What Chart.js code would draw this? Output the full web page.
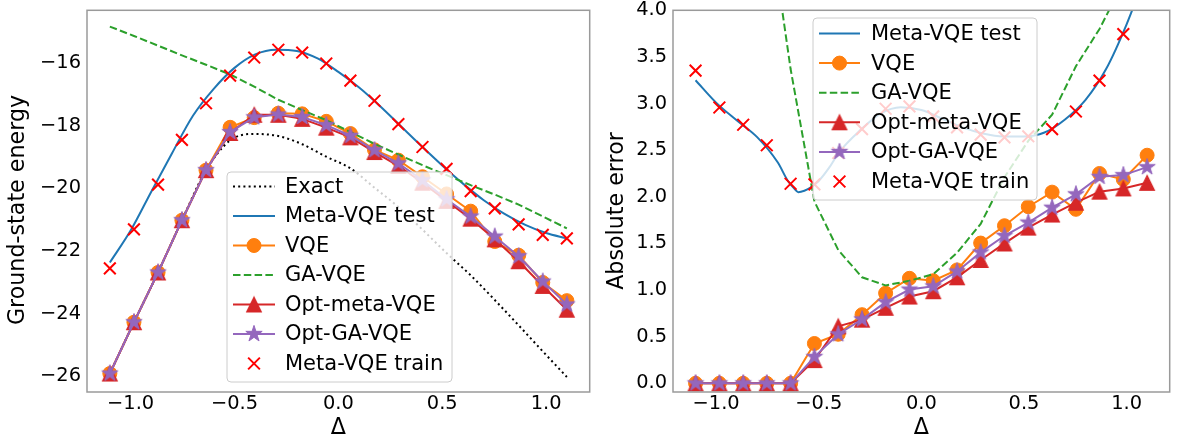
<!DOCTYPE html>
<html><head><meta charset="utf-8">
<script src="https://cdn.jsdelivr.net/npm/chart.js@4.4.0/dist/chart.umd.min.js"></script>
<style>
html,body{margin:0;padding:0;background:#fff;width:1180px;height:443px;overflow:hidden}
#c1{position:absolute;left:0;top:0}
#c2{position:absolute;left:600px;top:0}
</style></head><body>
<canvas id="c1" width="600" height="443"></canvas>
<canvas id="c2" width="580" height="443"></canvas>
<script>
// ---------- data ----------
const deltas = [-1.1, -0.984, -0.868, -0.753, -0.637, -0.521, -0.405, -0.289, -0.174, -0.058, 0.058, 0.174, 0.289, 0.405, 0.521, 0.637, 0.753, 0.868, 0.984, 1.1];
const xTicks = [-1.0, -0.5, 0.0, 0.5, 1.0];
const energyTicks = [-26, -24, -22, -20, -18, -16];
const errorTicks = [0, 0.5, 1.0, 1.5, 2.0, 2.5, 3.0, 3.5, 4.0];

// left panel: ground-state energy
const exactE    = [-25.92,-24.28,-22.69,-21.02,-19.42,-18.47,-18.26,-18.33,-18.59,-18.99,-19.36,-19.98,-20.60,-21.32,-22.07,-22.78,-23.57,-24.38,-25.21,-26.03];
const testXE    = [-1.1,-1.0,-0.9,-0.8,-0.7,-0.6,-0.5,-0.4,-0.3,-0.2,-0.1,0.0,0.1,0.2,0.3,0.4,0.5,0.6,0.7,0.8,0.9,1.0,1.1];
const metaTestE = [-22.37,-21.35,-20.10,-18.87,-17.68,-16.82,-16.15,-15.72,-15.57,-15.61,-15.85,-16.28,-16.78,-17.37,-18.01,-18.65,-19.27,-19.85,-20.38,-20.82,-21.17,-21.43,-21.60];
const vqeE      = [-25.92,-24.28,-22.69,-21.02,-19.42,-18.05,-17.74,-17.60,-17.62,-17.86,-18.25,-18.77,-19.10,-19.63,-20.18,-20.73,-21.70,-22.14,-23.01,-23.59];
const gaE       = [-14.83,-15.13,-15.44,-15.75,-16.05,-16.36,-16.75,-17.17,-17.50,-17.82,-18.20,-18.58,-18.92,-19.26,-19.58,-19.90,-20.20,-20.52,-20.90,-21.28];
const optMetaE  = [-25.92,-24.28,-22.69,-21.02,-19.42,-18.23,-17.65,-17.65,-17.78,-18.06,-18.37,-18.84,-19.28,-19.82,-20.40,-20.97,-21.63,-22.33,-23.12,-23.88];
const optGaE    = [-25.92,-24.28,-22.69,-21.02,-19.42,-18.20,-17.73,-17.64,-17.72,-17.98,-18.32,-18.78,-19.20,-19.74,-20.35,-20.90,-21.54,-22.17,-22.98,-23.71];
const metaTrainE= [-22.56,-21.31,-19.88,-18.45,-17.28,-16.40,-15.82,-15.57,-15.66,-16.01,-16.56,-17.20,-17.95,-18.68,-19.38,-20.09,-20.64,-21.15,-21.49,-21.60];

// right panel: absolute error
const testXR     = [-1.1,-1.0,-0.9,-0.8,-0.7,-0.65,-0.62,-0.6,-0.57,-0.54,-0.5,-0.45,-0.4,-0.3,-0.2,-0.1,0.0,0.1,0.2,0.3,0.4,0.5,0.6,0.7,0.8,0.9,1.0,1.1];
const metaTestErr= [3.25,3.01,2.82,2.64,2.37,2.17,2.09,2.05,2.065,2.10,2.17,2.31,2.48,2.71,2.89,2.96,2.93,2.84,2.745,2.68,2.648,2.647,2.69,2.83,3.04,3.37,3.85,4.43];
const vqeErr     = [0,0,0,0,0,0.427,0.526,0.736,0.966,1.126,1.10,1.216,1.504,1.69,1.894,2.05,1.866,2.25,2.187,2.446];
const gaErr      = [11.09,9.15,7.25,5.15,3.37,1.95,1.43,1.137,1.05,1.10,1.17,1.40,1.71,2.21,2.60,2.88,3.40,3.80,4.30,4.75];
const optMetaErr = [0,0,0,0,0,0.249,0.611,0.683,0.81,0.931,0.988,1.137,1.323,1.50,1.67,1.81,1.937,2.055,2.09,2.15];
const optGaErr   = [0,0,0,0,0,0.284,0.526,0.686,0.87,1.006,1.04,1.20,1.404,1.582,1.724,1.884,2.027,2.215,2.233,2.318];
const metaTrainErr=[3.353,2.958,2.773,2.553,2.14,2.133,2.47,2.726,2.944,2.97,2.862,2.745,2.667,2.638,2.649,2.726,2.915,3.246,3.744,4.43];

// ---------- styling ----------
const FONT = "'DejaVu Sans', sans-serif";
Chart.defaults.font.family = FONT;
Chart.defaults.color = '#000';
const C = {blue:'#1f77b4', orange:'#ff7f0e', green:'#2ca02c', red:'#d62728', purple:'#9467bd', train:'#ff0000'};

function makeStar(color){
  const c = document.createElement('canvas'); c.width = c.height = 20;
  const g = c.getContext('2d'); const R = 8.6, r = R*0.381966;
  g.beginPath();
  for (let k=0;k<10;k++){ const a=-Math.PI/2+k*Math.PI/5, rr=k%2?r:R; const px=10+rr*Math.cos(a), py=10+rr*Math.sin(a); k?g.lineTo(px,py):g.moveTo(px,py); }
  g.closePath(); g.fillStyle=color; g.fill(); g.lineWidth=1; g.strokeStyle=color; g.stroke();
  return c;
}
function makeTri(color){
  const c = document.createElement('canvas'); c.width = c.height = 20;
  const g = c.getContext('2d'); const h = 7.3;
  g.beginPath(); g.moveTo(10,10-h); g.lineTo(10-h,10+h); g.lineTo(10+h,10+h); g.closePath();
  g.fillStyle=color; g.fill(); g.lineWidth=1.2; g.strokeStyle=color; g.stroke();
  return c;
}
const starImg = makeStar(C.purple), triImg = makeTri(C.red);

const pts = (xa, ya) => xa.map((x,i)=>({x, y:ya[i]}));
const fmt = (v,d) => (v<0?'\u2212':'') + Math.abs(v).toFixed(d);

function line(label, data, color, extra){
  return Object.assign({label, data, borderColor:color, backgroundColor:color, borderWidth:2,
    pointRadius:0, pointHoverRadius:0, tension:0, fill:false, showLine:true}, extra||{});
}

function datasetsFor(xs, tx, v){
  const list = [];
  if (v.exact) list.push(line('Exact', pts(xs, v.exact), '#000', {borderDash:[2,3.2], cubicInterpolationMode:'monotone'}));
  list.push(line('Meta-VQE test', pts(tx, v.test), C.blue, {cubicInterpolationMode:'monotone'}));
  list.push(line('VQE', pts(xs, v.vqe), C.orange, {pointStyle:'circle', pointRadius:7, pointBorderWidth:1, pointBackgroundColor:C.orange, pointBorderColor:C.orange}));
  list.push(line('GA-VQE', pts(xs, v.ga), C.green, {borderDash:[7.5,3.3]}));
  list.push(line('Opt-meta-VQE', pts(xs, v.optMeta), C.red, {pointStyle:triImg, pointRadius:8}));
  list.push(line('Opt-GA-VQE', pts(xs, v.optGa), C.purple, {pointStyle:starImg, pointRadius:8}));
  list.push(line('Meta-VQE train', pts(xs, v.train), C.train, {showLine:false, pointStyle:'crossRot', pointRadius:8.3, pointBorderWidth:2, pointBorderColor:C.train}));
  const n = list.length;
  list.forEach((d,i)=>{ d.order = n - i; });
  return list;
}

function drawMarker(ctx, d, x, y){
  const st = d.pointStyle;
  if (!st || !d.pointRadius) return;
  ctx.save();
  if (st === 'circle'){
    ctx.beginPath(); ctx.arc(x,y,d.pointRadius,0,Math.PI*2);
    ctx.fillStyle=d.pointBackgroundColor; ctx.fill();
    ctx.lineWidth=d.pointBorderWidth||1; ctx.strokeStyle=d.pointBorderColor; ctx.stroke();
  } else if (st === 'crossRot'){
    const o = d.pointRadius*Math.SQRT1_2;
    ctx.beginPath(); ctx.moveTo(x-o,y-o); ctx.lineTo(x+o,y+o); ctx.moveTo(x-o,y+o); ctx.lineTo(x+o,y-o);
    ctx.lineWidth=d.pointBorderWidth; ctx.strokeStyle=d.pointBorderColor; ctx.stroke();
  } else if (typeof st === 'object'){
    ctx.drawImage(st, x-st.width/2, y-st.height/2);
  }
  ctx.restore();
}

function decorPlugin(cfg){
  return {
    id: 'decor',
    afterDraw(chart){
      const ctx = chart.ctx, a = chart.chartArea;
      ctx.save();
      // frame
      ctx.strokeStyle = '#9a9a9a'; ctx.lineWidth = 1.5;
      ctx.strokeRect(a.left, a.top, a.right-a.left, a.bottom-a.top);
      // axis titles
      ctx.fillStyle = '#000'; ctx.font = '22.2px ' + FONT;
      ctx.textAlign = 'center'; ctx.textBaseline = 'middle';
      ctx.fillText('\u0394', (a.left+a.right)/2, cfg.xTitleY);
      ctx.save(); ctx.translate(cfg.yTitleX, cfg.yTitleY); ctx.rotate(-Math.PI/2);
      ctx.fillText(cfg.yTitle, 0, 0); ctx.restore();
      // legend
      const L = cfg.legend;
      ctx.beginPath();
      if (ctx.roundRect) ctx.roundRect(L.x, L.y, L.w, L.h, 4); else ctx.rect(L.x, L.y, L.w, L.h);
      ctx.fillStyle = 'rgba(255,255,255,0.8)'; ctx.fill();
      ctx.strokeStyle = '#cccccc'; ctx.lineWidth = 1; ctx.stroke();
      ctx.font = '21px ' + FONT; ctx.textAlign = 'left'; ctx.textBaseline = 'middle';
      chart.data.datasets.forEach((d, i) => {
        const cy = L.y0 + i*L.dy;
        if (d.showLine !== false){
          ctx.save(); ctx.strokeStyle = d.borderColor; ctx.lineWidth = d.borderWidth;
          ctx.setLineDash(d.borderDash || []);
          ctx.beginPath(); ctx.moveTo(L.hx0, cy); ctx.lineTo(L.hx1, cy); ctx.stroke(); ctx.restore();
        }
        drawMarker(ctx, d, (L.hx0+L.hx1)/2, cy);
        ctx.fillStyle = '#000';
        ctx.fillText(d.label, L.tx, cy + 1);
      });
      ctx.restore();
    }
  };
}

function makeChart(id, datasets, yMin, yMax, yTicks, yDec, yWidth, padRight, decor){
  return new Chart(document.getElementById(id), {
    type: 'line',
    data: { datasets },
    options: {
      responsive:false, animation:false, devicePixelRatio:1,
      layout: { padding: { left:0, right:padRight, top:8, bottom:0 } },
      plugins: { legend:{display:false}, tooltip:{enabled:false} },
      events: [],
      scales: {
        x: { type:'linear', min:-1.21, max:1.21,
             grid:{display:false, drawTicks:false}, border:{display:false},
             ticks:{ font:{size:19.4}, color:'#000', padding:0, maxRotation:0, autoSkip:false, callback:v=>fmt(v,1) },
             afterBuildTicks: s => { s.ticks = xTicks.map(v=>({value:v})); },
             afterFit: s => { s.height = 51; s.paddingLeft = 0; s.paddingRight = 0; } },
        y: { type:'linear', min:yMin, max:yMax,
             grid:{display:false, drawTicks:false}, border:{display:false},
             ticks:{ font:{size:19.4}, color:'#000', padding:6, autoSkip:false, callback:v=>fmt(v,yDec) },
             afterBuildTicks: s => { s.ticks = yTicks.map(v=>({value:v})); },
             afterFit: s => { s.width = yWidth; s.paddingTop = 0; s.paddingBottom = 0; } }
      }
    },
    plugins: [decorPlugin(decor)]
  });
}

makeChart('c1',
  datasetsFor(deltas, testXE, {exact:exactE, test:metaTestE, vqe:vqeE, ga:gaE, optMeta:optMetaE, optGa:optGaE, train:metaTrainE}),
  -26.51, -14.31, energyTicks, 0, 87, 9,
  { xTitleY:428, yTitleX:18, yTitleY:210, yTitle:'Ground-state energy',
    legend:{x:227, y:172, w:225, h:210, y0:186.5, dy:29.5, hx0:233, hx1:275, tx:285} });

makeChart('c2',
  datasetsFor(deltas, testXR, {test:metaTestErr, vqe:vqeErr, ga:gaErr, optMeta:optMetaErr, optGa:optGaErr, train:metaTrainErr}),
  -0.093, 4.0, errorTicks, 1, 73, 2,
  { xTitleY:428, yTitleX:17, yTitleY:211, yTitle:'Absolute error',
    legend:{x:213, y:18, w:224, h:182, y0:33.5, dy:29.6, hx0:219, hx1:260, tx:271} });
</script>
</body></html>
